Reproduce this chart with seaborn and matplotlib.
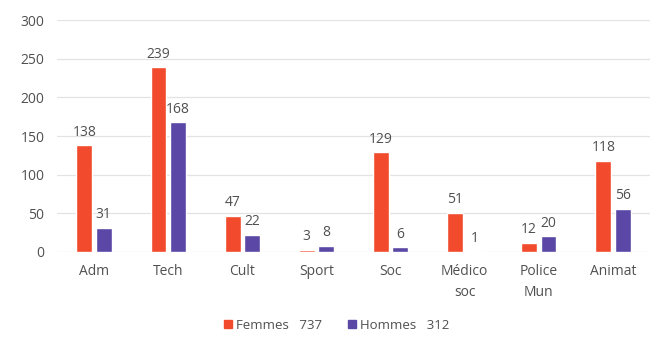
import matplotlib
matplotlib.use("Agg")
import matplotlib.pyplot as plt
import seaborn as sns
import pandas as pd

categories = ["Adm", "Tech", "Cult", "Sport", "Soc", "Médico\nsoc", "Police\nMun", "Animat"]
femmes = [138, 239, 47, 3, 129, 51, 12, 118]
hommes = [31, 168, 22, 8, 6, 1, 20, 56]
series = ["Femmes", "Hommes"]
colors = {"Femmes": "#F24A2C", "Hommes": "#5A47A6"}
y_ticks = [0, 50, 100, 150, 200, 250, 300]

df = pd.DataFrame({
    "categorie": categories * 2,
    "effectif": femmes + hommes,
    "sexe": [series[0]] * len(categories) + [series[1]] * len(categories),
})

sns.set_theme(style="white")
plt.rcParams["font.family"] = ["Open Sans", "DejaVu Sans"]
text_color = "#505050"

fig = plt.figure(figsize=(6.54, 3.40), dpi=100)
ax = fig.add_axes([0.087, 0.259, 0.907, 0.682])

sns.barplot(data=df, x="categorie", y="effectif", hue="sexe", palette=colors,
            width=0.52, gap=0.18, saturation=1, ax=ax, legend=False, zorder=3)

for container in ax.containers:
    ax.bar_label(container, padding=4, fontsize=10, color=text_color)

ax.set_ylim(0, 300)
ax.set_yticks(y_ticks)
ax.yaxis.grid(True, color="#E3E3E3", linewidth=0.9, zorder=0)
ax.set_axisbelow(True)
for s in ax.spines.values():
    s.set_visible(False)
ax.set_xlabel("")
ax.set_ylabel("")
ax.tick_params(axis="both", length=0, labelsize=10, colors=text_color)
ax.tick_params(axis="x", pad=9)
ax.tick_params(axis="y", pad=9)
for lbl in ax.get_xticklabels():
    lbl.set_linespacing(1.55)

totals = {"Femmes": sum(femmes), "Hommes": sum(hommes)}
handles = [plt.Rectangle((0, 0), 1, 1, color=colors[s]) for s in series]
labels = [f"{s}   {totals[s]}" for s in series]
fig.legend(handles, labels, loc="center", bbox_to_anchor=(0.515, 0.044), ncol=2,
           frameon=False, fontsize=9.5, handlelength=0.6, handleheight=0.6,
           handletextpad=0.3, columnspacing=2.0, labelcolor=text_color)

fig.savefig("out.png", dpi=100, facecolor="white")
